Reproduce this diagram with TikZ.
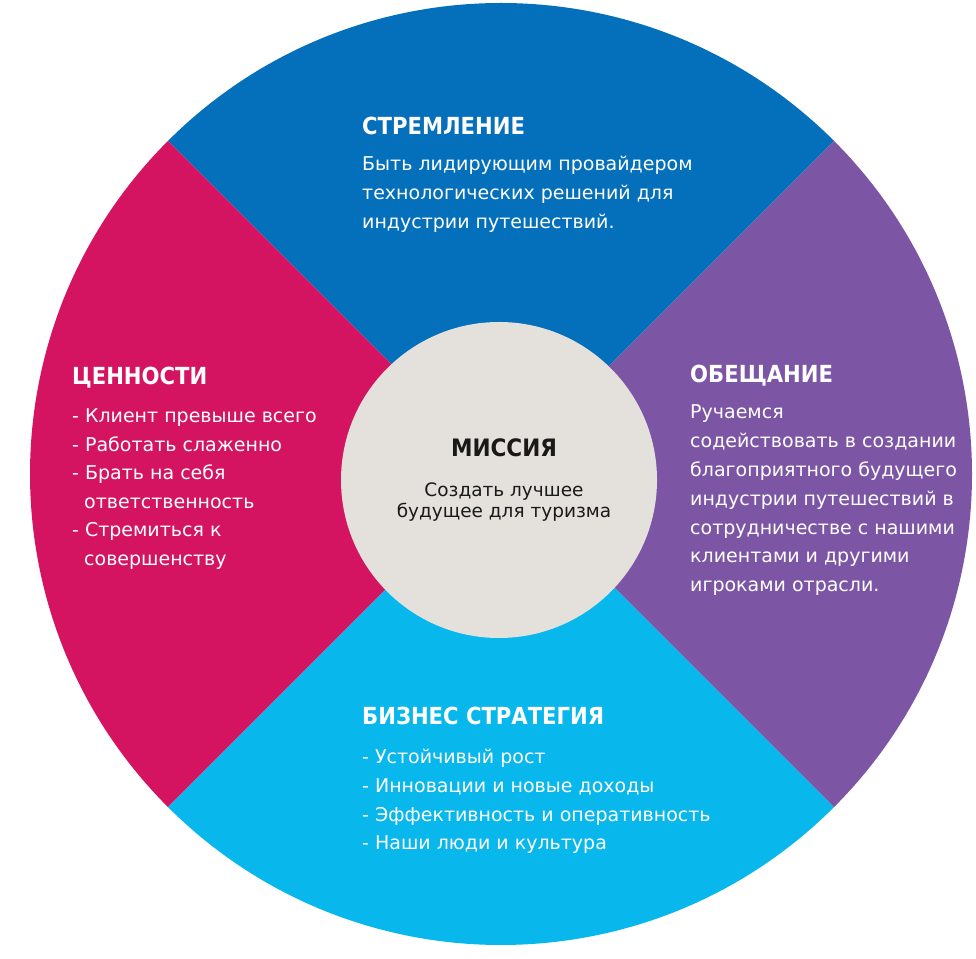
\documentclass[tikz,border=0pt]{standalone}
\usepackage{fontspec}
\setmainfont{DejaVu Sans}
\newfontfamily\headfont{DejaVu Sans Condensed Bold}
\definecolor{secblue}{RGB}{4,111,186}
\definecolor{secpink}{RGB}{212,20,96}
\definecolor{secpurple}{RGB}{124,85,165}
\definecolor{seccyan}{RGB}{8,183,236}
\definecolor{hubgray}{RGB}{228,225,221}
\begin{document}
\begin{tikzpicture}[x=1pt,y=1pt,
  head/.style={anchor=base west,inner sep=0pt,text=white,font=\headfont\fontsize{23.5}{26}\selectfont},
  body/.style={anchor=base west,inner sep=0pt,text=white,font=\fontsize{19}{22}\selectfont},
  hubhead/.style={anchor=base,inner sep=0pt,text=black!90,font=\headfont\fontsize{24}{26}\selectfont},
  hubbody/.style={anchor=base,inner sep=0pt,text=black!90,font=\fontsize{18.5}{21}\selectfont}]
\useasboundingbox (0,0) rectangle (976,958);
\coordinate (C) at (501,484);
\def\R{471}
% four quarter sectors of the wheel
\fill[secblue]   (C) -- ++(45:\R)  arc[start angle=45, end angle=135, radius=\R] -- cycle;
\fill[secpink]   (C) -- ++(135:\R) arc[start angle=135,end angle=225, radius=\R] -- cycle;
\fill[seccyan]   (C) -- ++(225:\R) arc[start angle=225,end angle=315, radius=\R] -- cycle;
\fill[secpurple] (C) -- ++(315:\R) arc[start angle=315,end angle=405, radius=\R] -- cycle;
% hub
\node[circle,fill=hubgray,minimum size=316pt,inner sep=0pt] (hub) at (499,478) {};
\node[hubhead] (hubT) at (504,501) {МИССИЯ};
\node[hubbody] (hub1) at (504,461) {Создать лучшее};
\node[hubbody] (hub2) at (504,440) {будущее для туризма};
% top sector
\node[head] (topT) at (362,823) {СТРЕМЛЕНИЕ};
\foreach \t [count=\i from 0] in {Быть лидирующим провайдером,технологических решений для,индустрии путешествий.}
  \node[body] (top\i) at (362,787-29*\i) {\t};
% left sector
\node[head] (leftT) at (72,573) {ЦЕННОСТИ};
\foreach \xx/\t [count=\i from 0] in {72/- Клиент превыше всего,72/- Работать слаженно,72/- Брать на себя,84/ответственность,72/- Стремиться к,84/совершенству}
  \node[body] (left\i) at (\xx,535-28.5*\i) {\t};
% right sector
\node[head] (rightT) at (690,575) {ОБЕЩАНИЕ};
\foreach \t [count=\i from 0] in {Ручаемся,содействовать в создании,благоприятного будущего,индустрии путешествий в,сотрудничестве с нашими,клиентами и другими,игроками отрасли.}
  \node[body] (right\i) at (690,539-28.8*\i) {\t};
% bottom sector
\node[head] (botT) at (362,233) {БИЗНЕС СТРАТЕГИЯ};
\foreach \t [count=\i from 0] in {- Устойчивый рост,- Инновации и новые доходы,- Эффективность и оперативность,- Наши люди и культура}
  \node[body] (bot\i) at (362,194-28.5*\i) {\t};
\end{tikzpicture}
\end{document}
